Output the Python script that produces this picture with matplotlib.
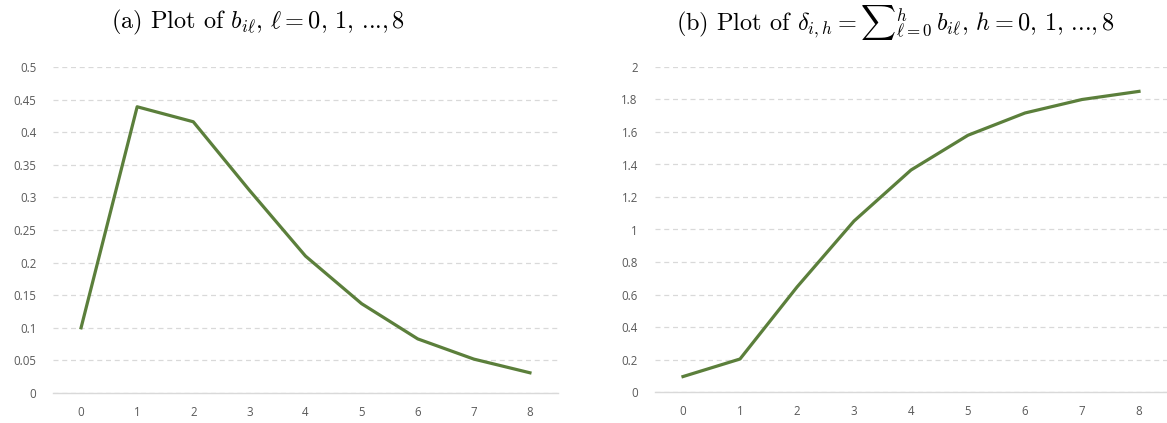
import matplotlib
matplotlib.use("Agg")
import matplotlib.pyplot as plt

# Data
lags = [0, 1, 2, 3, 4, 5, 6, 7, 8]
b_values = [0.10, 0.439, 0.416, 0.311, 0.210, 0.137, 0.083, 0.052, 0.031]
delta_values = [0.095, 0.203, 0.646, 1.052, 1.366, 1.580, 1.717, 1.800, 1.850]

left_yticks = [0, 0.05, 0.1, 0.15, 0.2, 0.25, 0.3, 0.35, 0.4, 0.45, 0.5]
left_ylabels = ["0", "0.05", "0.1", "0.15", "0.2", "0.25", "0.3", "0.35", "0.4", "0.45", "0.5"]
right_yticks = [0, 0.2, 0.4, 0.6, 0.8, 1.0, 1.2, 1.4, 1.6, 1.8, 2.0]
right_ylabels = ["0", "0.2", "0.4", "0.6", "0.8", "1", "1.2", "1.4", "1.6", "1.8", "2"]
xlabels = [str(v) for v in lags]

title_a = r"(a) Plot of $b_{i\ell}$, $\ell = 0,\,1,\,$...,$\,8$"
title_b = r"(b) Plot of $\delta_{i,h} = {\sum}_{\ell=0}^{h}\, b_{i\ell}$, $h = 0,\,1,\,$...,$\,8$"

plt.rcParams["mathtext.fontset"] = "cm"

W, H = 1167, 423
fig = plt.figure(figsize=(W / 100, H / 100), dpi=100)

line_color = "#5B7F3B"
grid_color = "#D9D9D9"
label_color = "#595959"


def style_axes(ax, yticks, ylabels, ymax):
    ax.set_xlim(-0.5, 8.5)
    ax.set_ylim(0, ymax)
    ax.set_xticks(lags)
    ax.set_xticklabels(xlabels)
    ax.set_yticks(yticks)
    ax.set_yticklabels(ylabels)
    for s in ["top", "right", "left"]:
        ax.spines[s].set_visible(False)
    ax.spines["bottom"].set_color(grid_color)
    ax.spines["bottom"].set_linewidth(1.0)
    ax.tick_params(axis="both", length=0, labelsize=8.3, labelcolor=label_color)
    ax.tick_params(axis="y", pad=12)
    ax.tick_params(axis="x", pad=9)
    for lab in ax.get_xticklabels() + ax.get_yticklabels():
        lab.set_fontfamily("Open Sans")
    ax.yaxis.grid(True, color=grid_color, linestyle=(0, (4, 3)), linewidth=0.9)
    ax.set_axisbelow(True)


ax1 = fig.add_axes([53 / W, (H - 393) / H, 505 / W, 326 / H])
ax1.plot(lags, b_values, color=line_color, linewidth=2.3, solid_joinstyle="round")
style_axes(ax1, left_yticks, left_ylabels, 0.5)

ax2 = fig.add_axes([654.5 / W, (H - 392) / H, 513 / W, 325 / H])
ax2.plot(lags, delta_values, color=line_color, linewidth=2.3, solid_joinstyle="round")
style_axes(ax2, right_yticks, right_ylabels, 2.0)

fig.text(258 / W, 1 - 22 / H, title_a, ha="center", va="center",
         fontsize=17.5, family="cmr10")
fig.text(895 / W, 1 - 22 / H, title_b, ha="center", va="center",
         fontsize=17.5, family="cmr10")

fig.savefig("out.png", dpi=100)
